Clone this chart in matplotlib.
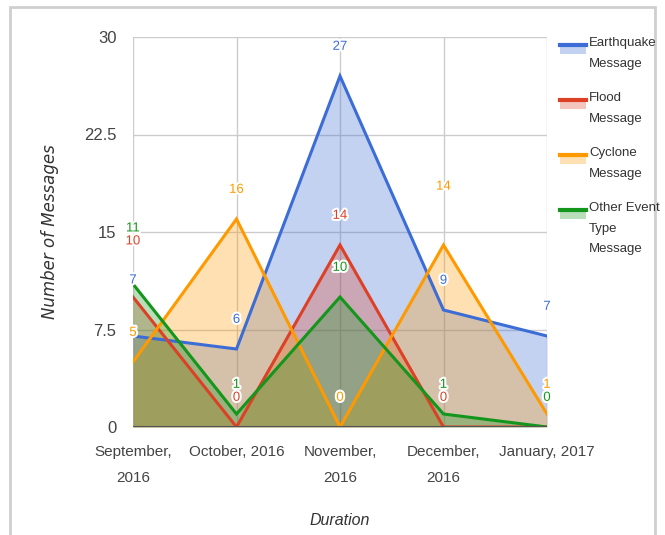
import matplotlib.pyplot as plt
import matplotlib.patheffects as pe
from matplotlib.lines import Line2D
from matplotlib.patches import Rectangle

plt.rcParams['font.family'] = ['Liberation Sans', 'DejaVu Sans']

months = ['September,\n2016', 'October, 2016', 'November,\n2016', 'December,\n2016', 'January, 2017']
earthquake = [7, 6, 27, 9, 7]
flood = [10, 0, 14, 0, 0]
cyclone = [5, 16, 0, 14, 1]
other = [11, 1, 10, 1, 0]

series = [
    ('Earthquake\nMessage', earthquake, '#3c6dd6'),
    ('Flood\nMessage', flood, '#dc4126'),
    ('Cyclone\nMessage', cyclone, '#ff9900'),
    ('Other Event\nType\nMessage', other, '#14961c'),
]

# extra upward shift (points) for labels moved to avoid overlaps: (month, series)
extra_shift = {(0, 0): 19, (0, 1): 19, (0, 3): 19, (3, 2): 21}

fig = plt.figure(figsize=(6.65, 5.35), dpi=100)
ax = fig.add_axes([133 / 665, 1 - 427 / 535, 414 / 665, 390 / 535])

x = list(range(len(months)))
for name, vals, col in series:
    ax.fill_between(x, vals, 0, color=col, alpha=0.3, lw=0, zorder=2)
for name, vals, col in series:
    ax.plot(x, vals, color=col, lw=2.2, zorder=4, solid_joinstyle='miter')

for si, (name, vals, col) in enumerate(series):
    for i, v in enumerate(vals):
        dy = 21 + extra_shift.get((i, si), 0)
        t = ax.annotate(str(v), (i, v), xytext=(0, dy), textcoords='offset points',
                        ha='center', va='center', color=col, fontsize=9.5, zorder=6,
                        annotation_clip=False)
        t.set_clip_on(True)
        t.set_path_effects([pe.withStroke(linewidth=3, foreground='white')])

ax.set_xlim(0, 4)
ax.set_ylim(0, 30)
ax.set_yticks([0, 7.5, 15, 22.5, 30])
ax.set_yticklabels(['0', '7.5', '15', '22.5', '30'])
ax.set_xticks(x)
ax.set_xticklabels(months, linespacing=2.1)
ax.tick_params(length=0, labelsize=11, labelcolor='#444444', pad=13)
ax.tick_params(axis='y', pad=12, labelsize=12)
ax.grid(True, color='#cccccc', lw=1, zorder=0)
ax.set_axisbelow(True)
for s in ax.spines.values():
    s.set_visible(False)
ax.axhline(0, color='#555555', lw=1.5, zorder=5)

ax.set_ylabel('Number of Messages', fontsize=12, style='italic', color='#333333',
              family=['DejaVu Sans'], labelpad=18)
ax.set_xlabel('Duration', fontsize=11.5, style='italic', color='#333333', labelpad=20)

# legend drawn by hand so multi-line labels hang from the swatch
ytop = [45, 100, 155, 210]
for (name, vals, col), yt in zip(series, ytop):
    yf = 1 - yt / 535
    fig.patches.append(Rectangle((560 / 665, yf - 9 / 535), 26 / 665, 9 / 535,
                                 transform=fig.transFigure, color=col, alpha=0.3, lw=0))
    fig.lines.append(Line2D([560 / 665, 586 / 665], [yf, yf], transform=fig.transFigure,
                            color=col, lw=3))
    fig.text(589 / 665, yf + 8 / 535, name, fontsize=9.5, color='#333333',
             va='top', ha='left', linespacing=1.95)

fig.patches.append(Rectangle((10 / 665, -0.05), 645 / 665, 1 - 7 / 535 + 0.05,
                             transform=fig.transFigure, fill=False,
                             edgecolor='#cfcfcf', lw=2))

fig.savefig('out.png', dpi=100)
